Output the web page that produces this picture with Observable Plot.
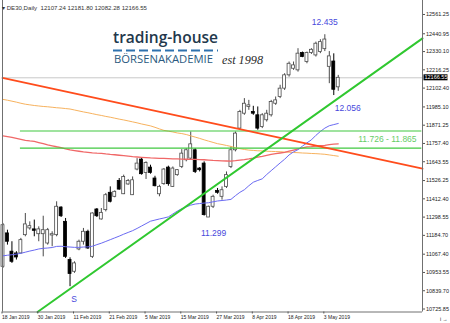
<!DOCTYPE html>
<html><head><meta charset="utf-8">
<script src="https://cdn.jsdelivr.net/npm/d3@7"></script>
<script src="https://cdn.jsdelivr.net/npm/@observablehq/plot@0.6"></script>
<style>
body{margin:0;background:#fff}
#chart{position:relative;width:450px;height:323px;overflow:hidden}
</style>
</head><body><div id="chart"></div>
<script>
// ---- data ----
const symbolTitle = "▾ DE30,Daily  12107.24 12181.80 12082.28 12166.55";
const open  = [10989,11197,11083,11072,11072,11186,11228,11222,11192,11192,11134,11184,11186,11358,11269,11031,10958,11097,11145,11207,11051,11346,11284,11342,11450,11425,11524,11441,11502,11435,11595,11657,11574,11607,11539,11441,11504,11607,11487,11560,11611,11653,11663,11715,11601,11632,11296,11363,11462,11425,11487,11611,11715,11850,11943,11985,11954,11933,11860,11902,11933,12005,12047,12099,12182,12223,12213,12321,12265,12321,12306,12327,12345,12235,12268,12107.24];
const high  = [11259,11217,11145,11083,11166,11321,11269,11280,11238,11304,11228,11207,11394,11363,11290,11045,11020,11155,11228,11217,11325,11352,11352,11446,11487,11462,11539,11560,11533,11549,11663,11663,11643,11622,11553,11497,11601,11616,11611,11595,11719,11725,11829,11725,11607,11643,11367,11435,11477,11487,11580,11736,11829,11964,12037,12026,11989,11985,11943,11964,12026,12047,12120,12192,12265,12265,12348,12327,12327,12348,12389,12404,12435,12330,12316,12181.80];
const low   = [10979,11124,11010,11031,11068,11176,11217,11176,11145,11051,11124,11114,11176,11296,11041,10865,10948,11089,11124,11097,11041,11296,11280,11331,11387,11419,11466,11439,11497,11433,11587,11560,11533,11566,11487,11425,11497,11491,11483,11553,11601,11643,11657,11570,11580,11305,11299,11352,11441,11404,11477,11601,11705,11840,11933,11964,11933,11840,11850,11891,11922,11995,12037,12088,12171,12213,12202,12292,12254,12312,12296,12317,12330,12130,12056,12082.28];
const close = [11248,11145,11020,11047,11155,11253,11242,11213,11222,11217,11217,11192,11363,11304,11051,10944,11010,11145,11207,11103,11321,11304,11325,11435,11394,11456,11470,11549,11524,11528,11632,11566,11636,11574,11491,11487,11595,11504,11601,11591,11694,11715,11752,11580,11591,11311,11363,11425,11450,11466,11560,11715,11819,11954,12005,11995,11943,11850,11933,11943,12016,12026,12099,12182,12254,12244,12317,12296,12321,12341,12379,12389,12405,12300,12092,12166.55];
const maBlue   = [11057,11061,11064,11068,11073,11080,11087,11093,11100,11104,11106,11109,11116,11117,11114,11112,11110,11110,11112,11113,11117,11127,11136,11147,11158,11169,11180,11192,11203,11214,11228,11243,11258,11273,11280,11287,11293,11300,11318,11336,11351,11362,11373,11380,11383,11386,11388,11394,11399,11402,11405,11409,11432,11453,11469,11494,11516,11527,11537,11564,11588,11612,11636,11659,11686,11705,11719,11741,11761,11780,11808,11832,11853,11868,11875,11882];
const maRed    = [11805,11800,11795,11789,11783,11777,11773,11770,11763,11756,11749,11743,11737,11732,11724,11717,11713,11709,11705,11702,11699,11697,11696,11692,11689,11687,11684,11681,11678,11675,11673,11671,11669,11667,11666,11665,11664,11663,11662,11661,11660,11659,11658,11658,11657,11656,11654,11652,11651,11649,11648,11647,11650,11654,11657,11661,11666,11672,11677,11683,11689,11694,11698,11702,11709,11716,11723,11730,11736,11738,11741,11744,11746,11750,11753,11755];
const maOrange = [12032,12027,12021,12015,12008,12002,11998,11994,11991,11988,11986,11983,11980,11978,11975,11972,11966,11960,11954,11949,11943,11937,11932,11926,11921,11915,11909,11904,11898,11892,11886,11879,11873,11867,11858,11848,11839,11834,11829,11823,11819,11813,11805,11797,11789,11780,11772,11764,11756,11751,11745,11739,11731,11725,11720,11716,11714,11712,11711,11709,11708,11707,11706,11704,11703,11701,11700,11698,11697,11695,11694,11692,11690,11686,11682,11678];
const dateTickIdx = [0,8,16,24,32,40,48,56,64,72];
const dateLabels = ["18 Jan 2019","30 Jan 2019","11 Feb 2019","21 Feb 2019","5 Mar 2019","15 Mar 2019","27 Mar 2019","8 Apr 2019","18 Apr 2019","3 May 2019"];
const yTicks = [12561.25,12440.95,12330.10,12216.25,12102.40,11985.10,11871.25,11757.40,11643.55,11526.25,11412.40,11298.55,11184.70,11067.40,10953.55,10839.70,10725.85];
const supportIdx = [7.72, 93.85], supportPrice = [10707.2, 12411.9];
const resistIdx = [-0.11, 93.85], resistPrice = [12165.5, 11600.0];
const zoneLevels = [11728, 11835], zoneFrom = 3.9, zoneTo = 93.7;
const zoneLabel = "11.726 - 11.865", zoneLabelIdx = 86;
const extremeIdx = [72, 74, 46, 15];
const extremePrice = [12435, 12056, 11299, 10865];
const extremeText = ["12.435", "12.056", "11.299", "S"];

// ---- derived tables ----
const X_DOMAIN = [-0.11, 93.85];
const Y_DOMAIN = [10707.2, 12648.3];
const bars = close.map((c, i) => ({i, o: open[i], h: high[i], l: low[i], c}));
const up = bars.filter(d => d.c >= d.o), dn = bars.filter(d => d.c < d.o);
const rows = arr => arr.map((v, i) => ({i, v}));
const lastClose = close[close.length - 1];
const support = supportIdx.map((i, k) => ({i, p: supportPrice[k]}));
const resist = resistIdx.map((i, k) => ({i, p: resistPrice[k]}));
const ext = extremeIdx.map((i, k) => ({i, p: extremePrice[k], t: extremeText[k]}));
const extOffsets = [{dx: 0, dy: -12}, {dx: 14, dy: 13}, {dx: 5, dy: 16}, {dx: 4, dy: 13}];
const FONT = "Liberation Sans, Arial, sans-serif";

const marks = [
  Plot.ruleY([lastClose], {stroke: "#c8c8c8", strokeWidth: 1}),
  Plot.ruleX(up, {x: "i", y1: "l", y2: "h", stroke: "#4a4a4a", strokeWidth: 1}),
  Plot.ruleX(dn, {x: "i", y1: "l", y2: "h", stroke: "#000", strokeWidth: 1}),
  Plot.rect(up, {x1: d => d.i - 0.33, x2: d => d.i + 0.33, y1: "o", y2: "c", fill: "white", stroke: "#4a4a4a", strokeWidth: 0.8}),
  Plot.rect(dn, {x1: d => d.i - 0.33, x2: d => d.i + 0.33, y1: "o", y2: "c", fill: "#000", stroke: "#000", strokeWidth: 0.8}),
  Plot.line(rows(maOrange), {x: "i", y: "v", stroke: "#f7b25e", strokeWidth: 1}),
  Plot.line(rows(maRed), {x: "i", y: "v", stroke: "#f06868", strokeWidth: 1.3}),
  Plot.line(rows(maBlue), {x: "i", y: "v", stroke: "#6a6af2", strokeWidth: 1}),
  Plot.ruleY(zoneLevels, {x1: zoneFrom, x2: zoneTo, stroke: "#40c840", strokeWidth: 1.2}),
  Plot.line(resist, {x: "i", y: "p", stroke: "#ff4c1c", strokeWidth: 1.8}),
  Plot.line(support, {x: "i", y: "p", stroke: "#30c830", strokeWidth: 2}),
  Plot.text([zoneLabel], {x: zoneLabelIdx, y: (zoneLevels[0] + zoneLevels[1]) / 2, text: d => d, fill: "#66cc66", fontSize: 8.5, fontFamily: FONT}),
  ...ext.map((d, k) => Plot.text([d], {x: "i", y: "p", text: "t", dx: extOffsets[k].dx, dy: extOffsets[k].dy, fill: "#4848dc", fontSize: 8.5, fontFamily: FONT})),
  Plot.ruleX([X_DOMAIN[0]], {stroke: "#707070", strokeWidth: 1}),
  Plot.ruleX([X_DOMAIN[1]], {stroke: "#707070", strokeWidth: 1}),
  Plot.ruleY([Y_DOMAIN[0]], {stroke: "#707070", strokeWidth: 1}),
  Plot.axisY({anchor: "right", ticks: yTicks, tickFormat: d => d.toFixed(2), tickSize: 2, tickPadding: 1.5, fontSize: 5.5, fill: "#222", stroke: "#555"}),
  Plot.axisX({anchor: "bottom", ticks: dateTickIdx, tickFormat: d => dateLabels[dateTickIdx.indexOf(d)], tickSize: 2, tickPadding: 1, textAnchor: "start", dx: -1, fontSize: 5, fill: "#222", stroke: "#555"})
];

const chart = Plot.plot({
  width: 450, height: 323,
  marginLeft: 2, marginRight: 28, marginTop: 0, marginBottom: 11.5,
  x: {domain: X_DOMAIN, axis: null},
  y: {domain: Y_DOMAIN, axis: null},
  style: {fontFamily: FONT, fontSize: "5.5px", background: "white", color: "#222"},
  marks
});
document.getElementById("chart").appendChild(chart);

// ---- decorations positioned with the chart's own scale ----
const svg = d3.select(chart);
const yPx = chart.scale("y").apply(lastClose);
svg.append("rect").attr("x", 423.5).attr("y", yPx - 3).attr("width", 24).attr("height", 6).attr("fill", "#000");
svg.append("text").attr("text-anchor", "start").attr("x", 424.5).attr("y", yPx + 2).attr("fill", "#fff").attr("font-size", 5.5)
  .attr("font-family", FONT).text(lastClose.toFixed(2));

svg.append("text").attr("text-anchor", "start").attr("x", 2).attr("y", 9.5).attr("font-size", 6).attr("font-family", FONT)
  .attr("fill", "#333").attr("textLength", 145).attr("lengthAdjust", "spacingAndGlyphs")
  .style("white-space", "pre").text(symbolTitle);

const logo = svg.append("g").attr("text-anchor", "start");
logo.append("text").attr("x", 113).attr("y", 43).attr("font-family", "Open Sans, sans-serif").attr("font-weight", 600)
  .attr("font-size", 16).attr("fill", "#23384c").attr("textLength", 105).attr("lengthAdjust", "spacingAndGlyphs").text("trading-house");
logo.append("line").attr("x1", 113).attr("x2", 218).attr("y1", 50.5).attr("y2", 50.5)
  .attr("stroke", "#2f72ae").attr("stroke-width", 2.2).attr("stroke-dasharray", "9 4");
logo.append("text").attr("x", 114).attr("y", 63.3).attr("font-family", "Open Sans, sans-serif")
  .attr("font-size", 11.5).attr("fill", "#2a5a80").attr("textLength", 99).attr("lengthAdjust", "spacingAndGlyphs").text("BÖRSENAKADEMIE");
logo.append("text").attr("x", 222).attr("y", 63.5).attr("font-family", "Liberation Serif, serif").attr("font-style", "italic")
  .attr("font-size", 13).attr("fill", "#2b2b2b").attr("textLength", 41).attr("lengthAdjust", "spacingAndGlyphs").text("est 1998");
</script>
</body></html>
